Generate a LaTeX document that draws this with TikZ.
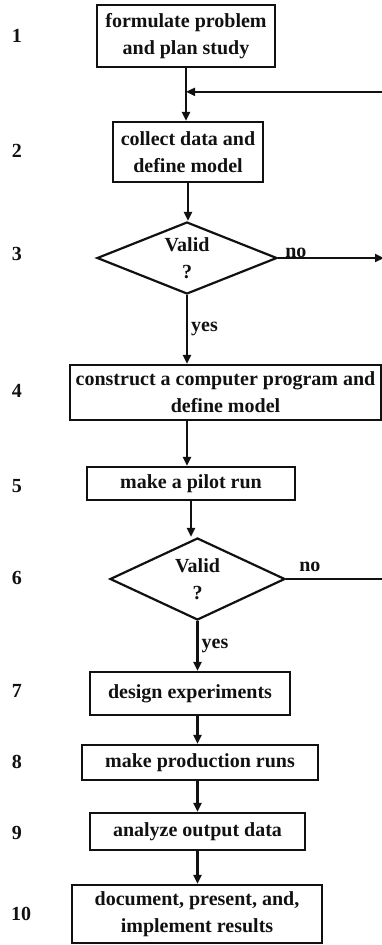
\documentclass[tikz,border=0pt]{standalone}
\usepackage{fontspec}
\setmainfont{Liberation Serif}
\usepackage{tikz}
\usetikzlibrary{arrows.meta,calc,shapes.geometric}
\definecolor{ink}{HTML}{111111}

\begin{document}
\begin{tikzpicture}[x=1pt,y=-1pt,>={Triangle[length=9pt,width=8pt]},
  every node/.style={text=ink,font=\fontsize{20}{27}\selectfont\bfseries},
  box/.style={draw=ink,line width=2.2pt,inner sep=0pt,align=center},
  decide/.style={draw=ink,line width=2.2pt,diamond,inner sep=0pt,aspect=2.5,align=center},
  flow/.style={draw=ink,line width=2.2pt},
  tag/.style={inner sep=1pt}]
\useasboundingbox (0,0) rectangle (382,945);
\clip (0,0) rectangle (382,945);

% step numbers
\foreach \n/\y in {1/36,2/151,3/254,4/391,5/486,6/578,7/691,8/762,9/833}
  \node (num\n) at (17,\y) {\n};
\node (num10) at (21,914) {10};

% steps
\node[box,minimum width=178pt,minimum height=62pt] (plan) at (186,36) {formulate problem\\and plan study};
\node[box,minimum width=150pt,minimum height=60pt] (model) at (188,152) {collect data and\\define model};
\node[decide,minimum width=180pt,minimum height=72pt] (valid1) at (187,258) {Valid\\?};
\node[box,minimum width=311pt,minimum height=55pt] (program) at (225.5,392.5) {construct a computer program and\\define model};
\node[box,minimum width=208pt,minimum height=33pt] (pilot) at (191,483.5) {make a pilot run};
\node[decide,minimum width=175pt,minimum height=82pt] (valid2) at (197.5,579) {Valid\\?};
\node[box,minimum width=200pt,minimum height=43pt] (design) at (190,693.5) {design experiments};
\node[box,minimum width=236pt,minimum height=35pt] (runs) at (200,762.5) {make production runs};
\node[box,minimum width=215pt,minimum height=37pt] (analyze) at (197.5,831.5) {analyze output data};
\node[box,minimum width=250pt,minimum height=58pt] (report) at (197,914) {document, present, and,\\implement results};

% main flow
\coordinate (merge) at ($(plan.south)!0.45!(plan.south |- model.north)$);
\coordinate (loop) at (384,0);
\draw[flow,->] (plan.south) -- (plan.south |- model.north);
\draw[flow,->] (model.south) -- (model.south |- valid1.north);
\draw[flow,->] (valid1.south) -- (valid1.south |- program.north);
\draw[flow,->] (valid1.south |- program.south) -- (valid1.south |- pilot.north);
\draw[flow,->] (pilot.south) -- (pilot.south |- valid2.north);
\draw[flow,->] (valid2.south) -- (valid2.south |- design.north);
\draw[flow,->] (valid2.south |- design.south) -- (valid2.south |- runs.north);
\draw[flow,->] (valid2.south |- runs.south) -- (valid2.south |- analyze.north);
\draw[flow,->] (valid2.south |- analyze.south) -- (valid2.south |- report.north);

% feedback
\draw[flow,->] (valid1.east) -- (valid1.east -| loop);
\draw[flow,->] (valid2.east) -- (valid2.east -| loop) -- (merge -| loop) -- (merge);

% branch labels
\node[tag,anchor=south west] (no1) at ($(valid1.east)+(6,1)$) {no};
\node[tag,anchor=south west] (no2) at ($(valid2.east)+(12,-6)$) {no};
\node[tag,anchor=west] (yes1) at ($(valid1.south)+(3,34)$) {yes};
\node[tag,anchor=west] (yes2) at ($(valid2.south)+(3,25)$) {yes};
\end{tikzpicture}
\end{document}
